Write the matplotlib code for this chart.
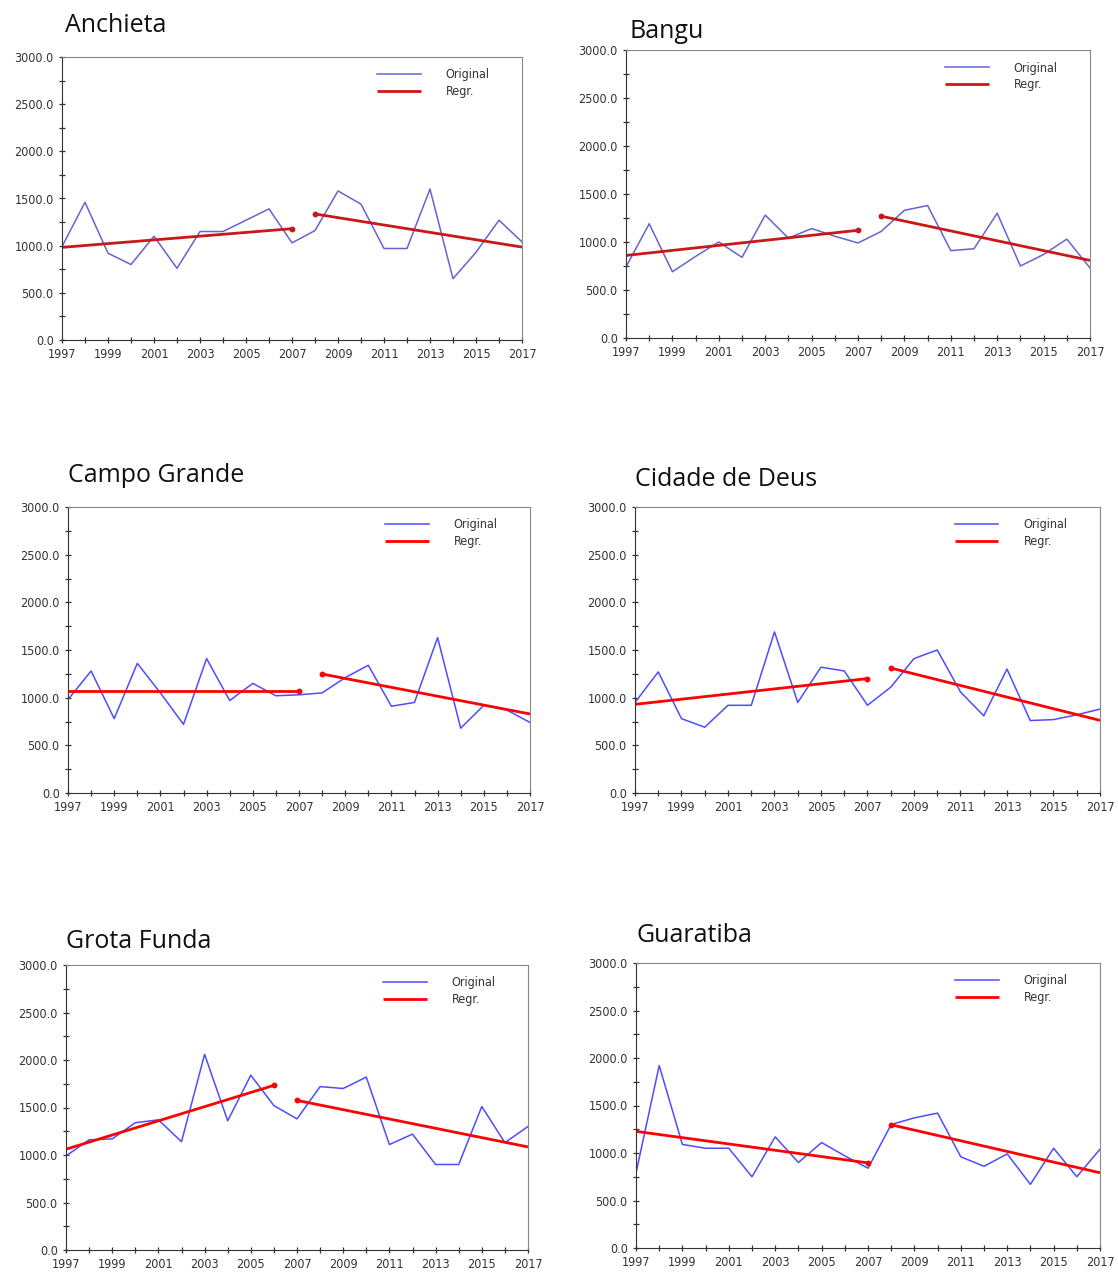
import matplotlib
matplotlib.use("Agg")
import matplotlib.pyplot as plt
import matplotlib.ticker as ticker
from matplotlib import font_manager
import numpy as np

years = np.arange(1997, 2018)

# annual series per station
anchieta = [990, 1460, 920, 800, 1100, 760, 1150, 1150, 1270, 1390, 1030,
            1160, 1580, 1440, 970, 970, 1600, 650, 930, 1270, 1040]
bangu = [740, 1190, 690, 850, 1000, 840, 1280, 1040, 1140, 1060, 990,
         1110, 1330, 1380, 910, 930, 1300, 750, 870, 1030, 730]
campo_grande = [980, 1280, 780, 1360, 1050, 720, 1410, 970, 1150, 1020, 1030,
                1050, 1210, 1340, 910, 950, 1630, 680, 920, 870, 740]
cidade_de_deus = [950, 1270, 780, 690, 920, 920, 1690, 950, 1320, 1280, 920,
                  1110, 1410, 1500, 1060, 810, 1300, 760, 770, 820, 880]
grota_funda = [990, 1160, 1170, 1340, 1370, 1140, 2060, 1360, 1840, 1520, 1380,
               1720, 1700, 1820, 1110, 1220, 900, 900, 1510, 1130, 1300]
guaratiba = [790, 1920, 1090, 1050, 1050, 750, 1170, 900, 1110, 970, 840,
             1300, 1370, 1420, 960, 860, 990, 670, 1050, 750, 1040]

# regression segments: (first year, last year, start value, end value)
anchieta_reg = [(1997, 2007, 982, 1180), (2008, 2017, 1336, 985)]
bangu_reg = [(1997, 2007, 860, 1122), (2008, 2017, 1269, 808)]
campo_grande_reg = [(1997, 2007, 1070, 1070), (2008, 2017, 1248, 829)]
cidade_de_deus_reg = [(1997, 2007, 930, 1200), (2008, 2017, 1311, 762)]
grota_funda_reg = [(1997, 2006, 1061, 1733), (2007, 2017, 1575, 1085)]
guaratiba_reg = [(1997, 2007, 1228, 896), (2008, 2017, 1297, 792)]

names = ["Anchieta", "Bangu", "Campo Grande", "Cidade de Deus", "Grota Funda", "Guaratiba"]
series = [anchieta, bangu, campo_grande, cidade_de_deus, grota_funda, guaratiba]
regs = [anchieta_reg, bangu_reg, campo_grande_reg, cidade_de_deus_reg, grota_funda_reg, guaratiba_reg]

W, H = 1118, 1275
# axes boxes in pixels: left, top, right, bottom
boxes = [(62, 57, 522, 340), (626, 50, 1090, 338),
         (68, 507, 530, 793), (635, 507, 1100, 793),
         (66, 965, 528, 1250), (636, 963, 1100, 1248)]
title_pos = [(65, 26), (630, 31), (68, 476), (635, 479), (66, 941), (637, 936)]
blues = ["#6464d2", "#6464d2", "#4d4dff", "#4d4dff", "#4d4dff", "#4d4dff"]
reds = ["#c81818", "#c81818", "#ff0000", "#ff0000", "#ff0000", "#ff0000"]

# narrow face for the tick labels if one is available
names_avail = {f.name for f in font_manager.fontManager.ttflist}
if "Liberation Sans Narrow" in names_avail:
    tick_prop = font_manager.FontProperties(family="Liberation Sans Narrow", size=10)
else:
    tick_prop = font_manager.FontProperties(family="DejaVu Sans", stretch="condensed", size=9)

fig = plt.figure(figsize=(W / 100, H / 100), dpi=100)

for i in range(6):
    l, t, r, b = boxes[i]
    ax = fig.add_axes([l / W, 1 - b / H, (r - l) / W, (b - t) / H])
    ax.plot(years, series[i], color=blues[i], lw=1.1, label="Original")
    for k, (y0, y1, v0, v1) in enumerate(regs[i]):
        ax.plot([y0, y1], [v0, v1], color=reds[i], lw=2.0, solid_capstyle="butt",
                label="Regr." if k == 0 else None)
        # small dot where each segment meets the break
        ax.plot([y1 if k == 0 else y0], [v1 if k == 0 else v0], "o",
                color=reds[i], markersize=3.2)

    ax.set_xlim(1997, 2017)
    ax.set_ylim(0, 3000)
    ax.xaxis.set_major_locator(ticker.FixedLocator(range(1997, 2018, 2)))
    ax.xaxis.set_minor_locator(ticker.MultipleLocator(1))
    ax.yaxis.set_major_locator(ticker.MultipleLocator(500))
    ax.yaxis.set_minor_locator(ticker.MultipleLocator(250))
    ax.yaxis.set_major_formatter(ticker.FormatStrFormatter("%.1f"))
    ax.tick_params(which="both", direction="inout", length=5, width=0.9, color="#333333")
    ax.tick_params(which="minor", length=4)
    ax.tick_params(axis="x", which="major", pad=3)
    ax.tick_params(axis="y", which="major", pad=3.5)
    for lab in ax.get_xticklabels() + ax.get_yticklabels():
        lab.set_fontproperties(tick_prop)
        lab.set_color("#333333")
    ax.spines["left"].set_color("#333333")
    ax.spines["bottom"].set_color("#333333")
    ax.spines["top"].set_color("#888888")
    ax.spines["right"].set_color("#888888")

    leg = ax.legend(loc="upper right", bbox_to_anchor=(0.93, 0.96), frameon=False,
                    handlelength=3.5, handletextpad=2.0, labelspacing=0.3,
                    borderaxespad=0, borderpad=0, prop=tick_prop)
    for txt in leg.get_texts():
        txt.set_color("#333333")

    tx, ty = title_pos[i]
    fig.text(tx / W, 1 - ty / H, names[i], fontsize=18, family="Open Sans",
             va="center", ha="left", color="#111111")

fig.savefig("out.png", dpi=100)
